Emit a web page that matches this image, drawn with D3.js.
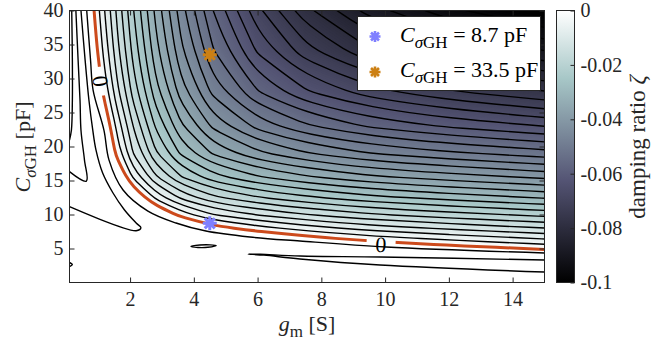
<!DOCTYPE html>
<html>
<head>
<meta charset="utf-8">
<script src="https://cdn.jsdelivr.net/npm/d3@7"></script>
<style>
  body { margin: 0; background: #fff; }
  svg text { font-family: "Liberation Serif", "Times New Roman", serif; }
</style>
</head>
<body>
<svg id="chart" width="669" height="349"></svg>
<script>
// ---- data ----
// grid nodes of the damping-ratio map
const gmNodes = [0.1, 0.6, 0.9, 1.2, 1.6, 2.1, 2.8, 3.6, 4.6, 6, 7.5, 9.5, 12, 15];
const capNodes = [0, 3, 4.5, 5.5, 6.5, 8, 10, 12.5, 15.5, 19, 23, 28, 34, 40];
// one row per capNodes entry (C = 0 first), one column per gmNodes entry
const zeta = [
  [0.01, 0.01, 0.01, 0.01, 0.01, 0.01, 0.01, 0.01, 0.01, 0.01, 0.01, 0.01, 0.01, 0.01],
  [0.01, 0.01, 0.01, 0.01, 0.01, 0.01, 0.01, 0.01, 0.01, 0.01, 0.01, 0.01, 0.01, 0.0081],
  [0.01, 0.01, 0.01, 0.01, 0.01, 0.01, 0.01, 0.01, 0.01, 0.01, 0.01, 0.0069, 0.0043, 0.0016],
  [0.01, 0.01, 0.01, 0.01, 0.01, 0.01, 0.01, 0.01, 0.01, 0.0089, 0.0059, 0.0026, -0.0001, -0.0028],
  [0.01, 0.01, 0.01, 0.01, 0.01, 0.01, 0.01, 0.01, 0.0083, 0.0045, 0.0015, -0.0018, -0.0044, -0.0071],
  [0.01, 0.01, 0.01, 0.01, 0.01, 0.01, 0.01, 0.0069, 0.0017, -0.002, -0.005, -0.0082, -0.0107, -0.0133],
  [0.01, 0.01, 0.01, 0.01, 0.01, 0.01, 0.0052, -0.0015, -0.0067, -0.0103, -0.0132, -0.0162, -0.0187, -0.0211],
  [0.01, 0.01, 0.01, 0.01, 0.01, 0.0046, -0.0042, -0.0108, -0.0159, -0.0197, -0.0226, -0.0256, -0.028, -0.0304],
  [0.01, 0.01, 0.01, 0.01, 0.0048, -0.0039, -0.0128, -0.0198, -0.0253, -0.0296, -0.0327, -0.0359, -0.0383, -0.0407],
  [0.01, 0.01, 0.01, 0.0066, -0.0014, -0.0101, -0.0195, -0.0273, -0.0338, -0.0392, -0.043, -0.0466, -0.0493, -0.0518],
  [0.01, 0.01, 0.0097, 0.0036, -0.0044, -0.0134, -0.0237, -0.0327, -0.0408, -0.0478, -0.0527, -0.0571, -0.0605, -0.0634],
  [0.01, 0.01, 0.0048, -0.0013, -0.0091, -0.018, -0.0285, -0.0383, -0.0476, -0.0564, -0.0628, -0.0684, -0.0728, -0.0763],
  [0.01, 0.0076, 0.0015, -0.0046, -0.0123, -0.0211, -0.032, -0.0425, -0.053, -0.0638, -0.0719, -0.0794, -0.0852, -0.0898],
  [0.01, 0.0055, -0.0006, -0.0066, -0.0142, -0.0231, -0.0341, -0.0451, -0.0566, -0.069, -0.0788, -0.088, -0.0956, -0.1015]
];
const levelCount = 30;          // contour levels between -0.1 and 0
const levelMin = -0.1;

// contours of positive damping in the white area, [gm, C]
const posLines = [
  [[0.64, 40], [0.76, 32.7], [0.84, 28.3], [1.18, 22.4], [1.34, 18.0], [1.78, 13.6], [2.56, 10.5],
   [3.44, 8.75], [4.38, 7.57], [5.76, 6.69], [7.33, 6.1], [10.03, 5.22], [15, 4.34]],
  [[0.46, 40], [0.59, 32.7], [0.71, 26.8], [0.83, 22.4], [0.93, 19.5], [1.14, 16.1], [1.46, 13.2],
   [1.82, 10.7], [2.19, 8.75], [2.34, 8.06], [2.19, 7.62], [0.1, 11.15]],
  [[0.30, 40], [0.37, 32.7], [0.43, 26.8], [0.46, 22.4], [0.57, 18.0], [0.63, 14.9], [0.1, 16.3]],
  [[0.17, 40], [0.19, 32.7], [0.19, 26.8], [0.16, 22.4], [0.1, 20.96]],
  [[15, 3.31], [9.84, 3.75], [7.33, 3.9], [6.08, 4.15], [5.7, 4.19], [6.2, 4.02], [7.33, 3.46], [9.84, 2.57], [15, 1.54]],
  [[0.1, 2.94], [0.19, 2.65], [0.1, 2.35]]
];
const lens = [[3.91, 5.29], [4.19, 5.51], [4.51, 5.54], [4.70, 5.44], [4.44, 5.18], [4.13, 5.15]];

const zeroLabelGm = [1.07, 9.87];
const zeroLabelCap = [29.6, 5.59];

const markerGm = [4.5, 4.5];
const markerCap = [8.7, 33.5];
const markerNames = ["8.7 pF", "33.5 pF"];

const xTicks = [2, 4, 6, 8, 10, 12, 14];
const yTicks = [5, 10, 15, 20, 25, 30, 35, 40];
const colorTicks = [-0.1, -0.08, -0.06, -0.04, -0.02, 0];

// ---- drawing ----
const svg = d3.select("#chart");
const ink = "#262626";
const serif = "Liberation Serif, Times New Roman, serif";
const markerColors = ["#7f7fff", "#cc8014"];
const zeroColor = "#cc4a1c";

const x = d3.scaleLinear().domain([0.1, 15]).range([69.5, 544.5]);
const y = d3.scaleLinear().domain([0, 40]).range([282.5, 10.5]);

// MATLAB bone colormap
const bone = d3.scaleLinear()
  .domain([-0.1, -0.0625, -0.025, 0])
  .range(["rgb(0,0,0)", "rgb(84,84,116)", "rgb(167,199,199)", "rgb(255,255,255)"])
  .clamp(true);

const nx = gmNodes.length, ny = capNodes.length;
const values = zeta.flat();
const gIdx = d3.scaleLinear().domain(d3.range(nx)).range(gmNodes).clamp(true);
const cIdx = d3.scaleLinear().domain(d3.range(ny)).range(capNodes).clamp(true);
const toPx = p => [x(gIdx(p[0] - 0.5)), y(cIdx(p[1] - 0.5))];

const defs = svg.append("defs");
defs.append("clipPath").attr("id", "plotClip")
  .append("rect").attr("x", 69.5).attr("y", 10.5).attr("width", 475).attr("height", 272);

const plot = svg.append("g").attr("clip-path", "url(#plotClip)");

// filled shading
plot.append("rect").attr("x", 69.5).attr("y", 10.5).attr("width", 475).attr("height", 272)
  .attr("fill", bone(-0.2));
const fillLevels = d3.range(-210, 1).map(i => i * 0.0005);
const fills = d3.contours().size([nx, ny]).thresholds(fillLevels)(values);
plot.append("g").selectAll("path")
  .data(fills)
  .join("path")
  .attr("fill", d => bone(d.value))
  .attr("fill-rule", "evenodd")
  .attr("d", d => d.coordinates.map(poly => poly.map(ring =>
      "M" + ring.map(toPx).map(p => p[0].toFixed(2) + "," + p[1].toFixed(2)).join("L") + "Z").join("")).join(""));

// split contour rings into open lines, dropping the parts on the grid border
function ringsToLines(geom) {
  const out = [];
  const eps = 1e-6;
  const side = p => {
    let s = 0;
    if (p[0] <= 0.5 + eps) s |= 1;
    if (p[0] >= nx - 0.5 - eps) s |= 2;
    if (p[1] <= 0.5 + eps) s |= 4;
    if (p[1] >= ny - 0.5 - eps) s |= 8;
    return s;
  };
  geom.coordinates.forEach(poly => poly.forEach(ring => {
    let pts = ring;
    const a = ring[0], b = ring[ring.length - 1];
    if (a[0] === b[0] && a[1] === b[1]) pts = ring.slice(0, -1);
    const n = pts.length;
    const edge = i => (side(pts[i]) & side(pts[(i + 1) % n])) !== 0;
    let start = -1;
    for (let i = 0; i < n; i++) if (edge(i)) { start = i; break; }
    if (start < 0) { out.push({ closed: true, pts: pts.map(toPx) }); return; }
    let cur = [];
    for (let k = 1; k <= n; k++) {
      const i = (start + k) % n;
      if (edge(i)) {
        if (cur.length > 1) out.push({ closed: false, pts: cur.map(toPx) });
        cur = [];
      } else {
        if (!cur.length) cur.push(pts[i]);
        cur.push(pts[(i + 1) % n]);
      }
    }
    if (cur.length > 1) out.push({ closed: false, pts: cur.map(toPx) });
  }));
  return out;
}

const openLine = d3.line().curve(d3.curveBasis);
const closedLine = d3.line().curve(d3.curveBasisClosed);
const drawLine = l => (l.closed ? closedLine : openLine)(l.pts);

const lineLevels = d3.range(1, levelCount + 1).map(k => k * levelMin / levelCount);
const isoLines = d3.contours().size([nx, ny]).thresholds(lineLevels)(values);
const blackLines = isoLines.flatMap(ringsToLines);

plot.append("g")
  .attr("fill", "none").attr("stroke", "#000").attr("stroke-width", 1.4)
  .selectAll("path")
  .data(blackLines)
  .join("path")
  .attr("d", drawLine);

// positive-level lines in the white region
const dataLine = d3.line().x(d => x(d[0])).y(d => y(d[1])).curve(d3.curveCatmullRom.alpha(0.5));
plot.append("g")
  .attr("fill", "none").attr("stroke", "#000").attr("stroke-width", 1.4)
  .selectAll("path")
  .data(posLines)
  .join("path")
  .attr("d", dataLine);
plot.append("path")
  .attr("fill", "none").attr("stroke", "#000").attr("stroke-width", 1.4)
  .attr("d", d3.line().x(d => x(d[0])).y(d => y(d[1])).curve(d3.curveCatmullRomClosed.alpha(0.5))(lens));

// zero contour with gaps for its labels
const labelAngles = [82, 3];
const mask = defs.append("mask").attr("id", "zeroGap").attr("maskUnits", "userSpaceOnUse")
  .attr("x", 0).attr("y", 0).attr("width", 669).attr("height", 349);
mask.append("rect").attr("width", 669).attr("height", 349).attr("fill", "#fff");
zeroLabelGm.forEach((g, i) => {
  mask.append("rect")
    .attr("transform", `translate(${x(g)},${y(zeroLabelCap[i])}) rotate(${labelAngles[i]})`)
    .attr("x", -14.5).attr("y", -10).attr("width", 29).attr("height", 20).attr("fill", "#000");
});
const zeroGeom = d3.contours().size([nx, ny]).thresholds([0])(values)[0];
plot.append("g")
  .attr("mask", "url(#zeroGap)")
  .attr("fill", "none").attr("stroke", zeroColor).attr("stroke-width", 3)
  .selectAll("path")
  .data(ringsToLines(zeroGeom))
  .join("path")
  .attr("d", drawLine);

zeroLabelGm.forEach((g, i) => {
  plot.append("text")
    .attr("transform", `translate(${x(g)},${y(zeroLabelCap[i])}) rotate(${labelAngles[i]})`)
    .attr("text-anchor", "middle").attr("dominant-baseline", "central")
    .attr("font-family", serif).attr("font-size", 22).attr("fill", "#000")
    .text("0");
});

// asterisk markers
const star = s => `M${-s},0H${s}M0,${-s}V${s}M${-s * 0.72},${-s * 0.72}L${s * 0.72},${s * 0.72}M${-s * 0.72},${s * 0.72}L${s * 0.72},${-s * 0.72}`;
markerGm.forEach((g, i) => {
  plot.append("path")
    .attr("transform", `translate(${x(g)},${y(markerCap[i])})`)
    .attr("d", star(7)).attr("fill", "none")
    .attr("stroke", markerColors[i]).attr("stroke-width", 3);
});

// axes
function styleAxis(g) {
  g.attr("font-size", 20).attr("font-family", serif);
  g.select(".domain").remove();
  g.selectAll(".tick line").attr("stroke", ink);
  g.selectAll(".tick text").attr("fill", ink).attr("font-family", serif);
}
svg.append("g").attr("transform", `translate(0,${y(0)})`)
  .call(d3.axisBottom(x).tickValues(xTicks).tickSizeInner(-5).tickSizeOuter(0).tickPadding(9))
  .call(styleAxis);
svg.append("g").attr("transform", `translate(0,${y(40)})`)
  .call(d3.axisTop(x).tickValues(xTicks).tickSizeInner(-5).tickSizeOuter(0).tickFormat(""))
  .call(styleAxis);
svg.append("g").attr("transform", `translate(${x(0.1)},0)`)
  .call(d3.axisLeft(y).tickValues(yTicks).tickSizeInner(-5).tickSizeOuter(0).tickPadding(6))
  .call(styleAxis);
svg.append("g").attr("transform", `translate(${x(15)},0)`)
  .call(d3.axisRight(y).tickValues(yTicks).tickSizeInner(-5).tickSizeOuter(0).tickFormat(""))
  .call(styleAxis);
svg.append("rect").attr("x", 69.5).attr("y", 10.5).attr("width", 475).attr("height", 272)
  .attr("fill", "none").attr("stroke", ink).attr("stroke-width", 1);

// axis labels
const xl = svg.append("text").attr("x", 307).attr("y", 331).attr("text-anchor", "middle")
  .attr("font-family", serif).attr("font-size", 22).attr("fill", ink);
xl.append("tspan").attr("font-style", "italic").text("g");
xl.append("tspan").attr("font-size", 17).attr("dy", 6).text("m");
xl.append("tspan").attr("dy", -6).text(" [S]");

const yl = svg.append("text").attr("transform", "translate(29.5,147) rotate(-90)")
  .attr("text-anchor", "middle").attr("font-family", serif).attr("font-size", 22).attr("fill", ink);
yl.append("tspan").attr("font-style", "italic").text("C");
yl.append("tspan").attr("font-size", 17).attr("font-style", "italic").attr("dy", 6).text("σ");
yl.append("tspan").attr("font-size", 17).text("GH");
yl.append("tspan").attr("dy", -6).text(" [pF]");

// legend
const leg = svg.append("g");
leg.append("rect").attr("x", 357.5).attr("y", 16.5).attr("width", 183).attr("height", 74)
  .attr("fill", "#fff").attr("stroke", ink).attr("stroke-width", 1);
markerNames.forEach((name, i) => {
  const cy = 36.5 + i * 35.5;
  leg.append("path").attr("transform", `translate(375,${cy})`)
    .attr("d", star(5.5)).attr("fill", "none")
    .attr("stroke", markerColors[i]).attr("stroke-width", 2.6);
  const t = leg.append("text").attr("x", 400).attr("y", cy + 5)
    .attr("font-family", serif).attr("font-size", 22).attr("fill", "#000");
  t.append("tspan").attr("font-style", "italic").text("C");
  t.append("tspan").attr("font-size", 17).attr("font-style", "italic").attr("dy", 6).text("σ");
  t.append("tspan").attr("font-size", 17).text("GH");
  t.append("tspan").attr("dy", -6).text(" = " + name);
});

// colorbar
const cb = d3.scaleLinear().domain([-0.1, 0]).range([282.5, 10.5]);
const grad = defs.append("linearGradient").attr("id", "boneGrad")
  .attr("x1", 0).attr("y1", 1).attr("x2", 0).attr("y2", 0);
bone.domain().forEach(v => {
  grad.append("stop").attr("offset", (v + 0.1) / 0.1).attr("stop-color", bone(v));
});
svg.append("rect").attr("x", 556.5).attr("y", 10.5).attr("width", 18).attr("height", 272)
  .attr("fill", "url(#boneGrad)").attr("stroke", ink).attr("stroke-width", 1);
svg.append("g").attr("transform", "translate(574.5,0)")
  .call(d3.axisRight(cb).tickValues(colorTicks).tickSizeInner(-4).tickSizeOuter(0).tickPadding(6)
    .tickFormat(d => (d === 0 ? "0" : String(d))))
  .call(styleAxis);

const cl = svg.append("text").attr("transform", "translate(645,147) rotate(-90)")
  .attr("text-anchor", "middle").attr("font-family", serif).attr("font-size", 23).attr("fill", ink);
cl.append("tspan").text("damping ratio ");
cl.append("tspan").attr("font-style", "italic").text("ζ");
</script>
</body>
</html>
